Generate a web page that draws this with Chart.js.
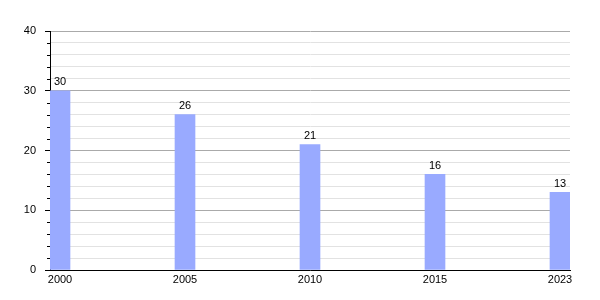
<!DOCTYPE html>
<html>
<head>
<meta charset="utf-8">
<script src="https://cdn.jsdelivr.net/npm/chart.js@4"></script>
<style>
  html, body { margin: 0; padding: 0; background: #fff; }
  #wrap { width: 600px; height: 300px; }
</style>
</head>
<body>
<div id="wrap"><canvas id="chart"></canvas></div>
<script>
"use strict";
const years = ['2000', '2005', '2010', '2015', '2023'];
const values = [30, 26, 21, 16, 13];
const yTicks = [0, 10, 20, 30, 40];

const barColor = '#99aaff';

// value labels above each bar
const valueLabels = {
    id: 'valueLabels',
    afterDatasetsDraw(chart) {
        const ctx = chart.ctx;
        const meta = chart.getDatasetMeta(0);
        ctx.save();
        ctx.font = '11px "Liberation Sans", Arial, sans-serif';
        ctx.fillStyle = '#000';
        ctx.textAlign = 'center';
        ctx.textBaseline = 'bottom';
        meta.data.forEach((bar, i) => {
            ctx.fillText(String(values[i]), bar.x, bar.y - 3);
        });
        ctx.restore();
    }
};

// short minor ticks on the y axis
const minorTicks = {
    id: 'minorTicks',
    afterDraw(chart) {
        const y = chart.scales.y;
        const ctx = chart.ctx;
        ctx.save();
        ctx.strokeStyle = '#000';
        ctx.lineWidth = 1;
        y.ticks.forEach(t => {
            if (t.value % 10 === 0) return;
            const py = Math.round(y.getPixelForValue(t.value)) + 0.5;
            ctx.beginPath();
            ctx.moveTo(y.right - 3, py);
            ctx.lineTo(y.right, py);
            ctx.stroke();
        });
        ctx.restore();
    }
};

new Chart(document.getElementById('chart'), {
    type: 'bar',
    data: {
        datasets: [{
            data: values.map((v, i) => ({ x: i, y: v })),
            backgroundColor: barColor,
            barThickness: 20,
            borderWidth: 0
        }]
    },
    options: {
        responsive: true,
        maintainAspectRatio: false,
        animation: false,
        layout: { padding: { top: 31, right: 30, left: 0, bottom: 0 } },
        plugins: { legend: { display: false }, tooltip: { enabled: false } },
        scales: {
            x: {
                type: 'linear',
                offset: false,
                min: -0.08,
                max: years.length - 1 + 0.08,
                afterFit(scale) { scale.height = 30; },
                afterBuildTicks(scale) {
                    scale.ticks = years.map((_, i) => ({ value: i }));
                },
                grid: { display: false, drawTicks: false, offset: false },
                border: { color: '#000', width: 1 },
                ticks: {
                    padding: 3,
                    color: '#000',
                    maxRotation: 0,
                    autoSkip: false,
                    font: { family: '"Liberation Sans", Arial, sans-serif', size: 11 },
                    callback: (v) => years[v] ?? ''
                }
            },
            y: {
                min: 0,
                max: 40,
                afterFit(scale) { scale.width = 50; },
                grid: {
                    color: (c) => (c.tick && c.tick.value % 10 === 0) ? '#aaaaaa' : '#e2e2e2',
                    tickColor: (c) => (c.tick && c.tick.value % 10 === 0) ? '#000' : 'transparent',
                    tickLength: 5
                },
                border: { color: '#000', width: 1 },
                ticks: {
                    stepSize: 2,
                    padding: 9,
                    color: '#000',
                    autoSkip: false,
                    font: { family: '"Liberation Sans", Arial, sans-serif', size: 11 },
                    callback: (v) => yTicks.includes(v) ? String(v) : ''
                }
            }
        }
    },
    plugins: [valueLabels, minorTicks]
});
</script>
</body>
</html>
